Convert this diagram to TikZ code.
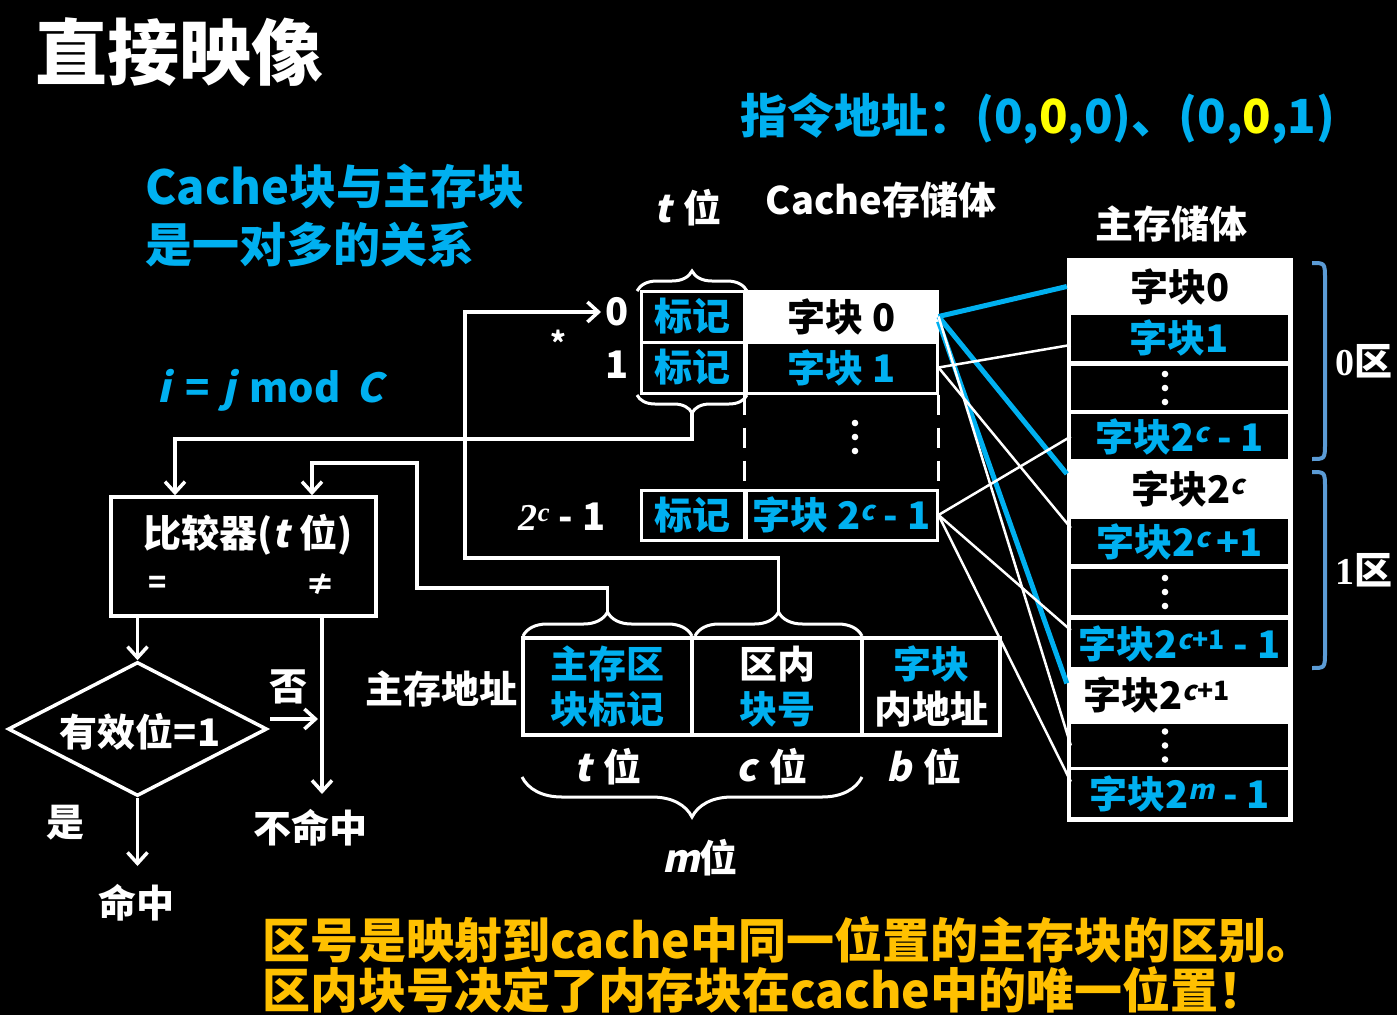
\documentclass[tikz,border=0pt]{standalone}
\usepackage{fontspec}
\setmainfont{Noto Sans CJK SC}
\newfontfamily\slx{Noto Sans CJK SC}[FakeSlant=0.22]
\newfontfamily\serifx{Liberation Serif}
\usetikzlibrary{arrows.meta,decorations.pathreplacing,shapes.geometric,calc}
\definecolor{cy}{HTML}{00B0F0}
\definecolor{yl}{HTML}{FFC000}
\definecolor{ye}{HTML}{FFFF00}
\definecolor{br}{HTML}{5B9BD5}
\newcommand\fsz[2]{\fontsize{#1}{#2}\selectfont}
\newcommand\ital[1]{{\slx #1}}
\newcommand\supit[1]{\textsuperscript{\slx #1}}
\newcommand\supcp{\textsuperscript{{\slx c}+1}}
\begin{document}
\begin{tikzpicture}[x=1pt,y=-1pt,
  wl/.style={white,line width=3.5pt},
  thin/.style={white,line width=2.5pt},
  bl/.style={cy,line width=5pt},
  arr/.style={-{Straight Barb[length=11pt,width=20pt]}},
  lbl/.style={inner sep=0pt,text=white,font=\bfseries\fsz{38}{38}},
  cell/.style={draw=white,line width=3pt,fill=black,inner sep=0pt,minimum height=51pt,text=cy,font=\bfseries\fsz{38}{38}},
  field/.style={draw=white,line width=3.5pt,fill=black,inner sep=0pt,minimum height=97pt,align=center,font=\bfseries\fsz{38}{45}},
  mrow/.style={fill=black,inner sep=0pt,minimum width=217pt,text=cy,font=\bfseries\fsz{38}{38}},
  wrow/.style={inner sep=0pt,minimum width=226pt,text=black,font=\bfseries\fsz{38}{38}},
  brc/.style={white,line width=3pt,decorate},
  vd/.pic={\fill[white] (0,-14) circle (3.3pt) (0,0) circle (3.3pt) (0,14) circle (3.3pt);}
]
% background
\fill[black] (0,0) rectangle (1397,1015);
\useasboundingbox (0,0) rectangle (1397,1015);

% headings
\node[anchor=west,inner sep=0pt,text=white,font=\bfseries\fsz{72}{72}] (title) at (35,52) {直接映像};
\node[anchor=west,inner sep=0pt,text=cy,font=\bfseries\fsz{47}{47}] (instr) at (740,118)
  {指令地址：(0,\textcolor{ye}{0},0)、(0,\textcolor{ye}{0},1)};
\node[anchor=west,inner sep=0pt,text=cy,align=left,font=\bfseries\fsz{47}{58}] (rel) at (145,216)
  {Cache块与主存块\\是一对多的关系};
\node[lbl,text=cy,font=\bfseries\fsz{40}{40}] (modf) at (270,390)
  {\ital{i}\hspace{16pt}=\hspace{12pt}\ital{j}\hspace{14pt}mod\hspace{16pt}\ital{C}};

% cache store
\node[lbl] (tbits) at (688,208) {\ital{t}\hspace{12pt}位};
\node[lbl] (cname) at (881,200) {Cache存储体};
\node[cell,minimum width=103pt] (tag0) at (692.5,316.5) {标记};
\node[cell,minimum width=103pt] (tag1) at (692.5,367.5) {标记};
\node[cell,minimum width=191pt,fill=white,text=black] (d0) at (841.5,316.5) {字块 0};
\node[cell,minimum width=191pt] (d1) at (841.5,367.5) {字块 1};
\node[cell,minimum width=103pt,minimum height=50pt] (tagN) at (692.5,515) {标记};
\node[cell,minimum width=191pt,minimum height=50pt] (dN) at (841.5,515) {字块 2\supit{c} - 1};
\draw[white,line width=3pt,dash pattern=on 20pt off 13pt] (d1.south west) -- (dN.north west);
\draw[white,line width=3pt,dash pattern=on 20pt off 13pt] (d1.south east) -- (dN.north east);
\pic at (855,437) {vd};
\node[lbl] (r0) at (617,312) {0};
\node[lbl] (r1) at (617,365) {1};
\node[lbl,font=\bfseries\fsz{30}{30}] (star) at (558,342) {*};
\node[lbl] (rN) at (562,517) {{\serifx\itshape 2\textsuperscript{c}} - 1};
\draw[brc,decoration={brace,amplitude=20pt}] (637,291) -- (747,291);
\draw[brc,decoration={brace,amplitude=18pt}] (747,395) -- (637,395);
\coordinate (tagtip) at (692,413);

% main memory
\node[lbl] (mname) at (1171,224) {主存储体};
\node[fill=white,inner sep=0pt,minimum width=226pt,minimum height=564pt] (mem) at (1180,540) {};
\node[wrow,minimum height=57pt] (m0) at (1180,286.5) {\raisebox{-4pt}{字块0}};
\node[mrow,minimum height=46pt] (m1) at (1179.5,338) {字块1};
\node[mrow,minimum height=44pt] (md1) at (1179.5,388) {};
\node[mrow,minimum height=45pt] (mc1) at (1179.5,436.5) {字块2\supit{c} - 1};
\node[wrow,minimum height=60pt] (mc) at (1180,489) {\raisebox{-5pt}{\hspace*{16pt}字块2\supit{c}}};
\node[mrow,minimum height=45pt] (mcp) at (1179.5,541.5) {字块2\supit{c}\,+1};
\node[mrow,minimum height=46pt] (md2) at (1179.5,592) {};
\node[mrow,minimum height=47pt] (m2c1m) at (1179.5,643.5) {字块2\supcp{} - 1};
\node[wrow,minimum height=55pt] (m2c1) at (1180,694.5) {\hspace*{-46pt}字块2\supcp};
\node[mrow,minimum height=43pt] (md3) at (1179.5,745.5) {};
\node[mrow,minimum height=47pt] (mm) at (1179.5,793.5) {字块2\supit{m} - 1};
\pic at (1165,388) {vd};
\pic at (1165,592) {vd};
\pic at (1165,745.5) {vd};

% zone brackets
\draw[br,line width=4pt] (1312,263) .. controls (1325,263) .. (1325,280) -- (1325,442) .. controls (1325,459) .. (1312,459);
\draw[br,line width=4pt] (1312,472) .. controls (1325,472) .. (1325,489) -- (1325,651) .. controls (1325,668) .. (1312,668);
\node[lbl] (z0) at (1364,361) {{\serifx 0}区};
\node[lbl] (z1) at (1364,570) {{\serifx 1}区};

% cache lines to main memory lines
\draw[bl] (d0.east) -- (m0.west);
\draw[bl] (d0.east) -- ($(mc.north west)!0.25!(mc.south west)$);
\draw[bl] ($(d0.east)+(0,5)$) -- ($(m2c1.north west)!0.3!(m2c1.south west)$);
\draw[thin] (d0.east) -- (md3.west);
\draw[thin] (d1.east) -- ($(m1.west)!0.3!(m1.south west)$);
\draw[thin] (d1.east) -- ($(mcp.north west)!0.2!(mcp.south west)$);
\draw[thin] (dN.east) -- (mc1.west);
\draw[thin] (dN.east) -- ($(m2c1m.north west)!0.22!(m2c1m.south west)$);
\draw[thin] (dN.east) -- ($(mm.north west)!0.25!(mm.south west)$);

% main memory address
\node[lbl] (maddr) at (441,689) {主存地址};
\node[field,minimum width=169pt,text=cy] (a1) at (607.5,686.5) {主存区\\块标记};
\node[field,minimum width=170pt] (a2) at (777,686.5) {\textcolor{white}{区内}\\\textcolor{cy}{块号}};
\node[field,minimum width=138pt] (a3) at (931,686.5) {\textcolor{cy}{字块}\\\textcolor{white}{内地址}};
\node[lbl] (tb) at (608,767) {\ital{t}\hspace{12pt}位};
\node[lbl] (cb) at (772,767) {\ital{c}\hspace{12pt}位};
\node[lbl] (bb) at (924,767) {\ital{b}\hspace{12pt}位};
\node[lbl] (mb) at (700,858) {\ital{m}位};
\draw[brc,decoration={brace,amplitude=24pt}] (523,636) -- (692,636);
\draw[brc,decoration={brace,amplitude=24pt}] (695,636) -- (862,636);
\draw[brc,decoration={brace,amplitude=40pt}] (862,777) -- (522,777);
\coordinate (ttip) at (607.5,612);
\coordinate (ctip) at (778.5,612);

% comparator and validity test
\node[draw=white,line width=3.5pt,inner sep=0pt,minimum width=265pt,minimum height=119pt] (cmp) at (243.5,556.5) {};
\node[lbl] (cmpt) at (248,535) {比较器(\ital{t}\hspace{10pt}位)};
\node[lbl,font=\bfseries\fsz{30}{30}] (eq) at (158,585) {=};
\node[lbl,font=\bfseries\fsz{30}{30}] (ne) at (320,585) {≠};
\node[draw=white,line width=3.5pt,diamond,inner sep=0pt,minimum width=259pt,minimum height=134pt] (dia) at (137.5,729) {};
\node[lbl] (valid) at (140,732) {有效位=1};
\node[lbl] (no) at (288,687) {否};
\node[lbl] (yes) at (65,823) {是};
\node[lbl] (miss) at (310,828) {不命中};
\node[lbl] (hitl) at (136,903) {命中};

% routing
\coordinate (k1) at (175,439);
\coordinate (k2a) at (417,588);
\coordinate (k2b) at (312,463);
\coordinate (k3a) at (465,558);
\coordinate (row0in) at (601,312);
\coordinate (nq) at (322,794);
\coordinate (noin) at (270,719);
\coordinate (noout) at (318,719);
\coordinate (hit) at (137.5,866);
\draw[wl,arr] (tagtip) |- (k1) -- (k1 |- cmp.north);
\draw[wl,arr] (ttip) |- (k2a) |- (k2b) -- (k2b |- cmp.north);
\draw[wl,arr] (ctip) |- (k3a) |- (row0in);
\draw[wl,arr] (cmp.south -| dia.north) -- (dia.north);
\draw[wl,arr] (cmp.south -| nq) -- (nq);
\draw[wl,arr] (noin) -- (noout);
\draw[wl,arr] (dia.south) -- (hit);

% summary
\node[anchor=west,inner sep=0pt,text=yl,font=\bfseries\fsz{48}{48}] (sum1) at (262,940) {区号是映射到cache中同一位置的主存块的区别。};
\node[anchor=west,inner sep=0pt,text=yl,font=\bfseries\fsz{48}{48}] (sum2) at (262,990) {区内块号决定了内存块在cache中的唯一位置！};
\end{tikzpicture}
\end{document}
